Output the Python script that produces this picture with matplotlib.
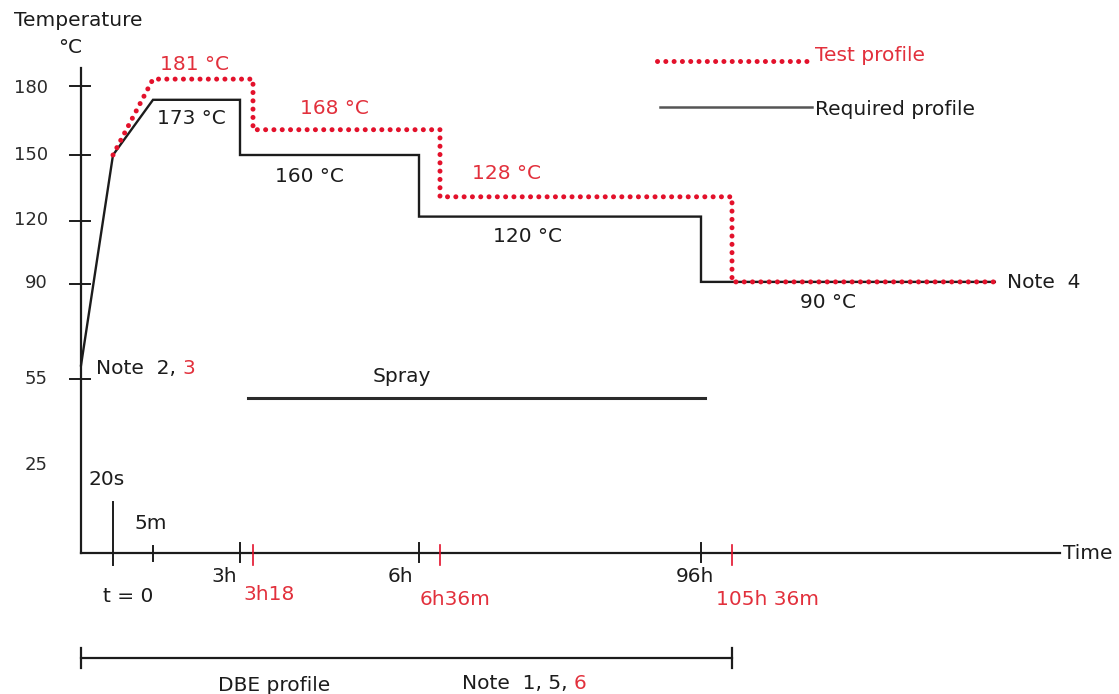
import numpy as np
import matplotlib
matplotlib.use("Agg")
import matplotlib.pyplot as plt
from matplotlib.transforms import Affine2D, blended_transform_factory

# schematic time axis: labelled times (hours) and the temperature axis labels
time_marks_h = [-20 / 3600, 0, 5 / 60, 3, 3.3, 6, 6.6, 96, 105.6]
temp_marks = [25, 55, 90, 120, 150, 180]

# required profile (black) and test profile (red dotted), hours / degC
required_t = [-20 / 3600, 0, 5 / 60, 3, 3, 6, 6, 96, 96, 187]
required_T = [60, 150, 174, 174, 150, 150, 122, 122, 91, 91]
test_t = [0, 5 / 60, 3.3, 3.3, 6.6, 6.6, 105.6, 105.6, 187]
test_T = [150, 183, 183, 161, 161, 131, 131, 91, 91]

spray_t = [3.18, 97.2]
dbe_t = [-20 / 3600, 105.6]

required_labels = ["173 °C", "160 °C", "120 °C", "90 °C"]
test_labels = ["181 °C", "168 °C", "128 °C"]
black_ticks = [3, 6, 96]
black_tick_labels = ["3h", "6h", "96h"]
red_ticks = [3.3, 6.6, 105.6]
red_tick_labels = ["3h18", "6h36m", "105h 36m"]
y_ticks = [180, 150, 120, 90, 55]
y_tick_labels = ["180", "150", "120", "90", "55", "25"]

W, H = 1119, 694
RED = "#e3112b"
RED_TXT = "#e2303c"
INK = "#1c1c1c"
FS = 14.5
DOTS = (0, (0.01, 1.65))

# the drawing is not to scale: both axes are piecewise linear between labelled marks
time_px = [81, 113, 153, 240, 253, 419, 440, 701, 732]
temp_rows = [464, 379, 284, 221, 155, 86]


def piecewise(src, dst):
    src = np.asarray(src, float)
    dst = np.asarray(dst, float)
    s0 = (dst[1] - dst[0]) / (src[1] - src[0])
    s1 = (dst[-1] - dst[-2]) / (src[-1] - src[-2])

    def f(v):
        v = np.asarray(v, float)
        out = np.interp(v, src, dst)
        out = np.where(v < src[0], dst[0] + (v - src[0]) * s0, out)
        out = np.where(v > src[-1], dst[-1] + (v - src[-1]) * s1, out)
        return out
    return f


x_fwd = piecewise(time_marks_h, time_px)
x_inv = piecewise(time_px, time_marks_h)
y_up = [H - r for r in temp_rows]
y_fwd = piecewise(temp_marks, y_up)
y_inv = piecewise(y_up, temp_marks)

fig = plt.figure(figsize=(W / 100, H / 100), dpi=100)
ax = fig.add_axes([0, 0, 1, 1])
ax.set_xscale("function", functions=(x_fwd, x_inv))
ax.set_yscale("function", functions=(y_fwd, y_inv))
ax.set_xlim(float(x_inv(0)), float(x_inv(W)))
ax.set_ylim(float(y_inv(0)), float(y_inv(H)))
ax.axis("off")

# pixel coordinates (x right, y down) for layout of annotations
pix = Affine2D().scale(1 / W, -1 / H).translate(0, 1) + fig.transFigure
x_data_y_pix = blended_transform_factory(ax.transData, pix)
x_pix_y_data = blended_transform_factory(pix, ax.transData)


def txt(x, y, s, color=INK, size=FS, ha="left", **kw):
    return ax.text(x, y, s, transform=pix, color=color, fontsize=size,
                   ha=ha, va="baseline", **kw)


def txt2(x, y, s1, s2, size=FS):
    t = txt(x, y, s1, size=size)
    ax.annotate(s2, xy=(1, 0), xycoords=t, va="bottom", ha="left",
                color=RED_TXT, fontsize=size)


# axes
ax.plot([81, 81], [68, 553], transform=pix, color=INK, lw=1.6)
ax.plot([81, 1060], [553, 553], transform=pix, color=INK, lw=1.6)
txt(1063, 559, "Time")
txt(14, 26, "Temperature")
txt(58, 53, "°C")

# y ticks
for T in y_ticks:
    ax.plot([70, 90], [T, T], transform=x_pix_y_data, color=INK, lw=1.4)
label_rows = [93, 160, 225, 288, 384, 470]
for s, r in zip(y_tick_labels, label_rows):
    txt(48, r, s, size=13, ha="right", color="#2a2a2a")

# x ticks
ax.plot([0, 0], [502, 565], transform=x_data_y_pix, color=INK, lw=1.4)
ax.plot([5 / 60, 5 / 60], [546, 561], transform=x_data_y_pix, color=INK, lw=1.4)
for t in black_ticks:
    ax.plot([t, t], [543, 562], transform=x_data_y_pix, color=INK, lw=1.4)
for t in red_ticks:
    ax.plot([t, t], [545, 565], transform=x_data_y_pix, color=RED, lw=1.2)
txt(88, 485, "20s")
txt(134, 529, "5m")
txt(103, 602, "t = 0")
for s, x in zip(black_tick_labels, [237, 413, 714]):
    txt(x, 582, s, ha="right")
for s, x, r in zip(red_tick_labels, [243, 420, 716], [600, 605, 605]):
    txt(x, r, s, color=RED_TXT)

# profiles
ax.plot(required_t, required_T, color=INK, lw=1.7, solid_joinstyle="miter")
ax.plot(test_t, test_T, color=RED, lw=3.6, linestyle=DOTS,
        dash_capstyle="round")

# level labels
for s, (x, r) in zip(required_labels, [(157, 124), (275, 182), (493, 242), (800, 308)]):
    txt(x, r, s)
for s, (x, r) in zip(test_labels, [(160, 70), (300, 114), (472, 179)]):
    txt(x, r, s, color=RED_TXT)
txt(1007, 288, "Note  4")
txt2(96, 374, "Note  2, ", "3")

# spray
ax.plot(spray_t, [398, 398], transform=x_data_y_pix, color="#2b2b2b", lw=2.2)
txt(373, 382, "Spray")

# legend
ax.plot([657, 812], [61, 61], transform=pix, color=RED, lw=3.6,
        linestyle=DOTS, dash_capstyle="round")
txt(815, 61, "Test profile", color=RED_TXT)
ax.plot([660, 812], [107, 107], transform=pix, color="#555555", lw=1.8)
txt(815, 115, "Required profile")

# DBE span
ax.plot(dbe_t, [658, 658], transform=x_data_y_pix, color=INK, lw=1.6)
for t in dbe_t:
    ax.plot([t, t], [648, 668], transform=x_data_y_pix, color=INK, lw=1.6)
txt(218, 691, "DBE profile")
txt2(462, 689, "Note  1, 5, ", "6")

fig.savefig("out.png", dpi=100, facecolor="white")
